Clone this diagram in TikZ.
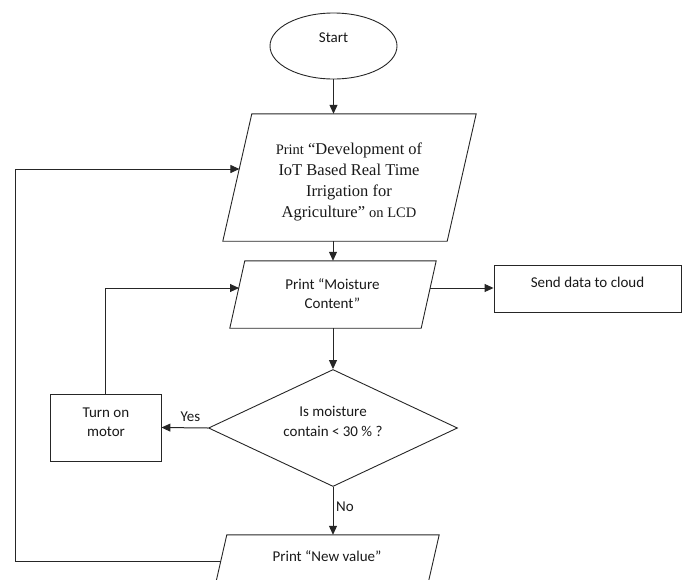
\documentclass[tikz,border=0pt]{standalone}
\usepackage{fontspec}
\setmainfont{Carlito}
\newfontfamily\serifTNR{Liberation Serif}
\usetikzlibrary{shapes.geometric,arrows.meta,calc}
\begin{document}
\begin{tikzpicture}[x=1pt,y=-1pt,
  shp/.style={draw=black!85,line width=0.9pt,inner sep=0pt},
  frame/.style={inner sep=0pt,rectangle},
  pline/.style={draw=black!85,line width=0.9pt,line join=miter},
  txt/.style={font=\fontsize{15}{19.5}\selectfont,align=center,inner sep=0pt,text=black!90},
  arr/.style={draw=black!85,line width=1pt,-{Triangle[length=9pt,width=8pt]}},
]
\useasboundingbox (0,0) rectangle (688,579);
\clip (0,0) rectangle (688,579);

% Start
\node[shp,ellipse,minimum width=127pt,minimum height=66pt] (start) at (333.5,46) {};
\node[txt] (tstart) at (333.5,38) {Start};

% Big parallelogram
\node[frame,minimum width=253pt,minimum height=127pt] (big) at (349.5,177.5) {};
\draw[pline] (big.south west) -- ($(big.north west)+(29,0)$) -- (big.north east) -- ($(big.south east)-(29,0)$) -- cycle;
\node[txt,font=\serifTNR\fontsize{16.5}{21}\selectfont] (tbig) at (349,181.5)
  {{\fontsize{14.5}{21}\selectfont Print} “Development of\\IoT Based Real Time\\Irrigation for\\Agriculture” {\fontsize{14.5}{21}\selectfont on LCD}};
\coordinate (bigIn) at (239.4,169);

% Moisture parallelogram
\node[frame,minimum width=206pt,minimum height=67pt] (moist) at (333,294.5) {};
\draw[pline] (moist.south west) -- ($(moist.north west)+(15,0)$) -- (moist.north east) -- ($(moist.south east)-(15,0)$) -- cycle;
\node[txt] (tmoist) at (332.5,293.5) {Print “Moisture\\Content”};
\coordinate (moistIn) at (239,288);
\coordinate (moistOut) at (429.7,288);

% Send box
\node[shp,rectangle,minimum width=187pt,minimum height=47pt] (send) at (587.5,288.5) {};
\node[txt] (tsend) at (587.5,282) {Send data to cloud};

% Decision
\node[shp,diamond,aspect=2.13,minimum width=249pt,minimum height=117pt] (dia) at (333,428) {};
\node[txt] (tdia) at (333,421.5) {Is moisture\\contain < 30 \% ?};

% Motor
\node[shp,rectangle,minimum width=111pt,minimum height=67pt] (motor) at (105.5,427.5) {};
\node[txt] (tmotor) at (106,422) {Turn on\\motor};

% New value parallelogram
\node[frame,minimum width=224pt,minimum height=52pt] (newv) at (327,561) {};
\draw[pline] (newv.south west) -- ($(newv.north west)+(12,0)$) -- (newv.north east) -- ($(newv.south east)-(12,0)$) -- cycle;
\node[txt] (tnewv) at (327,556) {Print “New value”};
\coordinate (newvOut) at (221,561);

\node[txt] (yes) at (190.5,417) {Yes};
\node[txt] (no) at (345,507) {No};

\coordinate (loopL) at (15,169);

\draw[arr] (start.south) -- (start.south |- big.north);
\draw[arr] (big.south -| moist.center) -- (moist.north -| moist.center);
\draw[arr] (moist.south -| dia.north) -- (dia.north);
\draw[arr] (dia.west) -- (motor.east);
\draw[arr] (dia.south) -- (dia.south |- newv.north);
\draw[arr] (motor.north) |- (moistIn);
\draw[arr] (moistOut) -- (moistOut -| send.west);
\draw[arr] (newvOut) -| (loopL) -- (bigIn);
\end{tikzpicture}
\end{document}
